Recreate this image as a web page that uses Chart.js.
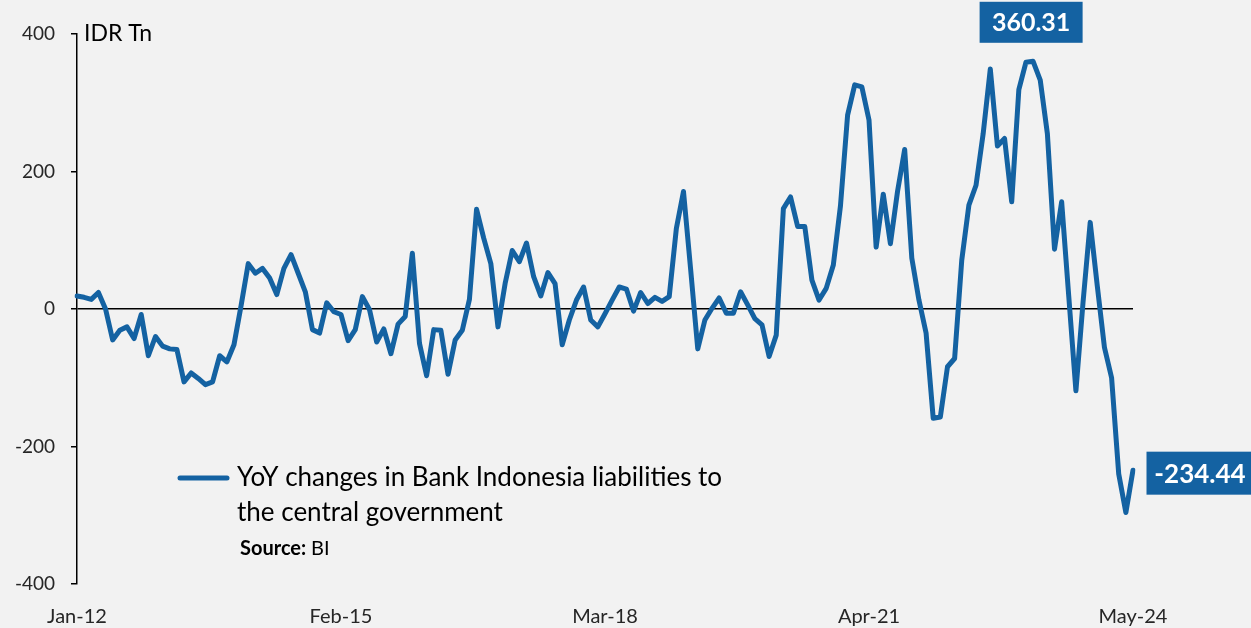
<!DOCTYPE html>
<html lang="en">
<head>
  <meta charset="UTF-8">
  <title>YoY changes in Bank Indonesia liabilities to the central government</title>
  <script src="https://cdn.jsdelivr.net/npm/chart.js"></script>
  <style>
    html, body { margin: 0; padding: 0; background: #f2f2f2; }
    .chart-container { position: relative; width: 1251px; height: 628px; }
  </style>
</head>
<body>
  <div class="chart-container">
    <canvas id="biChart" width="1251" height="628"></canvas>
  </div>

  <script>
    // monthly, Jan-12 .. May-24
    const monthNames = ['Jan', 'Feb', 'Mar', 'Apr', 'May', 'Jun', 'Jul', 'Aug', 'Sep', 'Oct', 'Nov', 'Dec'];
    const months = [];
    for (let yr = 2012; yr <= 2024; yr++) {
      for (let m = 0; m < 12; m++) {
        if (yr === 2024 && m > 4) break;
        months.push(monthNames[m] + '-' + String(yr).slice(2));
      }
    }
    const tickLabels = ['Jan-12', 'Feb-15', 'Mar-18', 'Apr-21', 'May-24'];
    const yTicks = [-400, -200, 0, 200, 400];

    // IDR Tn
    const yoyChange = [
      19, 17, 14, 24, 0, -45, -31, -26, -43, -8, -68, -40,
      -54, -58, -59, -106, -93, -101, -110, -106, -68, -77, -52, 5,
      66, 52, 59, 45, 21, 59, 79, 52, 25, -30, -35, 9,
      -4, -8, -46, -30, 18, -1, -48, -29, -65, -22, -11, 81,
      -50, -97, -30, -31, -95, -45, -31, 14, 145, 103, 66, -26,
      37, 85, 69, 96, 47, 19, 53, 37, -52, -16, 13, 32,
      -16, -26, -7, 13, 32, 29, -3, 24, 8, 17, 11, 18,
      117, 171, 58, -58, -16, 1, 16, -6, -6, 25, 6, -14,
      -23, -69, -38, 146, 163, 120, 120, 42, 13, 30, 64, 150,
      282, 326, 323, 275, 90, 167, 95, 171, 232, 74, 13, -35,
      -159, -157, -84, -72, 71, 151, 180, 255, 349, 237, 248, 156,
      319, 359, 360.31, 333, 255, 87, 156, 18, -119, 10, 126, 33,
      -56, -100, -240, -296, -234.44
    ];

    const seriesName = ['YoY changes in Bank Indonesia liabilities to', 'the central government'];
    const blue = '#1462a2';
    const font = 'Lato, "Open Sans", sans-serif';

    function drawBox(ctx, text, cx, cy, w, h, size) {
      ctx.fillStyle = blue;
      ctx.fillRect(cx - w / 2, cy - h / 2, w, h);
      ctx.fillStyle = '#fff';
      ctx.font = 'bold ' + size + 'px ' + font;
      ctx.textAlign = 'center';
      ctx.textBaseline = 'middle';
      ctx.fillText(text, cx, cy + 1);
    }

    const extras = {
      id: 'extras',
      afterDraw(chart) {
        const { ctx, scales: { x, y } } = chart;
        ctx.save();

        // unit
        ctx.fillStyle = '#000';
        ctx.font = '23px ' + font;
        ctx.textAlign = 'left';
        ctx.textBaseline = 'middle';
        ctx.fillText('IDR Tn', 84, y.getPixelForValue(400));

        // peak and latest callouts
        const peakIdx = yoyChange.indexOf(Math.max(...yoyChange));
        const px = x.getPixelForValue(peakIdx), py = y.getPixelForValue(yoyChange[peakIdx]);
        drawBox(ctx, yoyChange[peakIdx].toFixed(2), px - 2, py - 39, 103, 41, 25);

        const lastIdx = yoyChange.length - 1;
        const lx = x.getPixelForValue(lastIdx), ly = y.getPixelForValue(yoyChange[lastIdx]);
        drawBox(ctx, yoyChange[lastIdx].toFixed(2), lx + 67, ly + 3, 107, 43, 26);

        // legend
        ctx.strokeStyle = blue;
        ctx.lineWidth = 5;
        ctx.lineCap = 'round';
        ctx.beginPath();
        ctx.moveTo(180, 478);
        ctx.lineTo(227, 478);
        ctx.stroke();
        ctx.fillStyle = '#000';
        ctx.font = '26px ' + font;
        ctx.textAlign = 'left';
        ctx.fillText(seriesName[0], 237, 478);
        ctx.fillText(seriesName[1], 237, 513);

        ctx.font = 'bold 20px ' + font;
        ctx.fillText('Source:', 240, 549);
        const w = ctx.measureText('Source: ').width;
        ctx.font = '20px ' + font;
        ctx.fillText('BI', 240 + w, 549);

        ctx.restore();
      }
    };

    const ctx = document.getElementById('biChart').getContext('2d');
    new Chart(ctx, {
      type: 'line',
      data: {
        labels: months,
        datasets: [{
          label: seriesName.join(' '),
          data: yoyChange,
          borderColor: blue,
          borderWidth: 5,
          borderJoinStyle: 'round',
          borderCapStyle: 'round',
          pointRadius: 0,
          fill: false,
          tension: 0
        }]
      },
      options: {
        responsive: false,
        animation: false,
        layout: { padding: { left: 0, right: 118, top: 34, bottom: 0 } },
        plugins: {
          legend: { display: false },
          tooltip: { enabled: false }
        },
        scales: {
          x: {
            grid: { display: false, drawTicks: false },
            border: { display: false },
            afterFit: (s) => { s.height = 44; },
            ticks: {
              autoSkip: false,
              maxRotation: 0,
              padding: 21,
              color: '#262626',
              font: { family: font, size: 20 },
              callback: (val, i) => tickLabels.includes(months[i]) ? months[i] : ''
            }
          },
          y: {
            min: -400,
            max: 400,
            afterFit: (s) => { s.width = 77; },
            afterBuildTicks: (s) => { s.ticks = yTicks.map(v => ({ value: v })); },
            border: { display: true, color: '#000', width: 1.5 },
            grid: {
              color: (c) => c.tick && c.tick.value === 0 ? '#000' : 'rgba(0,0,0,0)',
              tickColor: '#000',
              tickLength: 6,
              lineWidth: 1.5
            },
            ticks: {
              padding: 16,
              color: '#262626',
              font: { family: font, size: 19 }
            }
          }
        }
      },
      plugins: [extras]
    });
  </script>
</body>
</html>
